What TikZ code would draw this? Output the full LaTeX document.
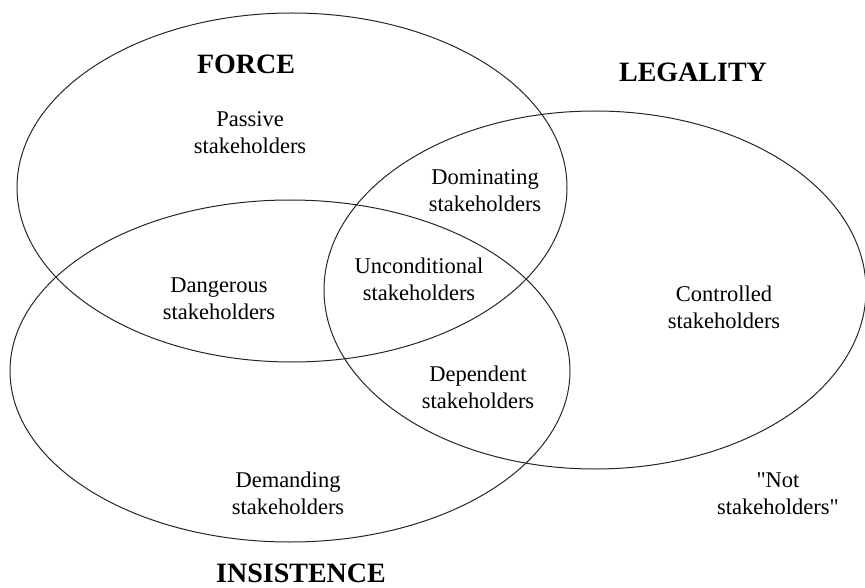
\documentclass[tikz,border=0pt]{standalone}
\usepackage{fontspec}
\setmainfont{Liberation Serif}
\usetikzlibrary{shapes.geometric}
\tikzset{set/.style={draw=black!85,line width=1pt,ellipse,inner sep=0pt},
  group/.style={font=\fontsize{22.5}{27}\selectfont,align=center,inner sep=0pt},
  title/.style={font=\fontsize{28}{32}\selectfont\bfseries,inner sep=0pt}}
\begin{document}
\begin{tikzpicture}[x=1pt,y=-1pt]
\useasboundingbox (0,0) rectangle (865,588);
\node[set,minimum width=550pt,minimum height=349pt] (force) at (292,187.5) {};
\node[set,minimum width=542pt,minimum height=358pt] (legality) at (595,290) {};
\node[set,minimum width=560pt,minimum height=342pt] (insistence) at (290,371) {};

\node[title] (forcelab) at (246,64) {FORCE};
\node[title] (legalitylab) at (693,72) {LEGALITY};
\node[title] (insistencelab) at (301,573) {INSISTENCE};

\node[group] (passive) at (250,133) {Passive\\stakeholders};
\node[group] (dominating) at (485,190.75) {Dominating\\stakeholders};
\node[group] (unconditional) at (419,279) {Unconditional\\stakeholders};
\node[group] (dangerous) at (219,299) {Dangerous\\stakeholders};
\node[group] (controlled) at (724,307) {Controlled\\stakeholders};
\node[group] (dependent) at (478,387) {Dependent\\stakeholders};
\node[group] (demanding) at (288,493) {Demanding\\stakeholders};
\node[group] (notstake) at (778,494) {\textquotedbl Not\\stakeholders\textquotedbl};
\end{tikzpicture}
\end{document}
